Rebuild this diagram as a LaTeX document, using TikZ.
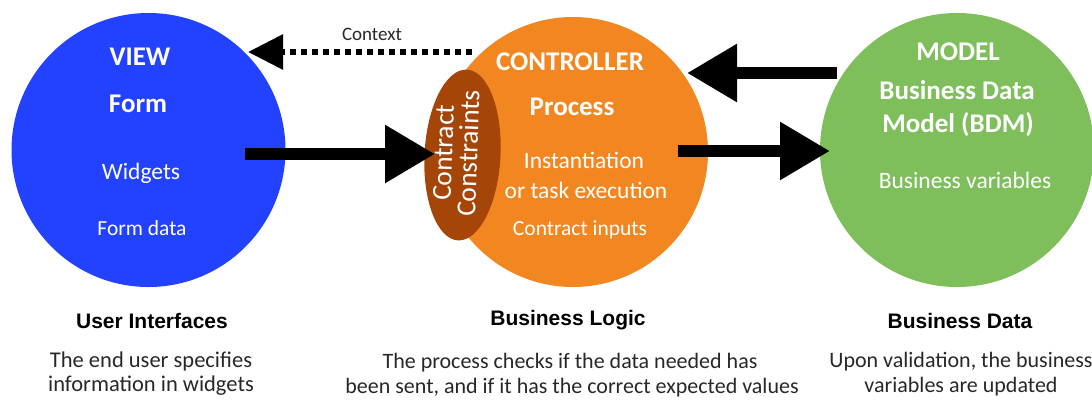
\documentclass[tikz,border=0pt]{standalone}
\usepackage{fontspec}
\setmainfont{Carlito}
\newfontfamily\headfont{Liberation Sans}
\usetikzlibrary{arrows.meta,shapes.geometric}

\definecolor{viewblue}{RGB}{34,66,255}
\definecolor{ctrlorange}{RGB}{242,135,34}
\definecolor{contractbrown}{RGB}{165,70,8}
\definecolor{modelgreen}{RGB}{126,191,92}
\definecolor{labelgray}{RGB}{40,40,40}

\tikzset{
  bubble/.style={circle, inner sep=0pt, minimum size=274pt},
  title/.style={inner sep=0pt, text=white, font=\bfseries\fontsize{27}{31}\selectfont},
  item/.style={inner sep=0pt, text=white, font=\fontsize{23.5}{27}\selectfont},
  small item/.style={inner sep=0pt, text=white, font=\fontsize{21.5}{25}\selectfont},
  heading/.style={inner sep=0pt, text=black, font=\headfont\bfseries\fontsize{21}{24}\selectfont},
  caption/.style={inner sep=0pt, text=labelgray, font=\fontsize{22}{26}\selectfont},
  bigarrow/.style={line width=12pt, -{Triangle[length=50pt,width=55pt]}},
  dotarrow/.style={line width=6pt, dash pattern=on 6pt off 5pt, -{Triangle[length=35pt,width=34pt]}}
}

\begin{document}
\begin{tikzpicture}[x=1pt,y=-1pt]
\useasboundingbox (0,0) rectangle (1092,400);

% the three parts
\node[bubble, fill=viewblue]    (view)  at (148.5,150) {};
\node[bubble, fill=ctrlorange, minimum size=270pt] (ctrl) at (573,152) {};
\node[bubble, fill=modelgreen]  (model) at (957,150) {};
\node[ellipse, fill=contractbrown, inner sep=0pt, rotate=-3,
      minimum width=76pt, minimum height=171pt] (contract) at (462.5,155) {};

% view texts
\node[title] (viewT)  at (140,57)  {VIEW};
\node[title] (viewF)  at (138,104) {Form};
\node[item]  (viewW)  at (141,173) {Widgets};
\node[small item] (viewD) at (142,228) {Form data};

% controller texts
\node[title] (ctrlT) at (570,62)  {CONTROLLER};
\node[title] (ctrlP) at (572,107) {Process};
\node[item]  (ctrlI) at (584,160) {Instantiation};
\node[item]  (ctrlE) at (586,190) {or task execution};
\node[small item] (ctrlC) at (580,230) {Contract inputs};
\node[inner sep=0pt, text=white, rotate=88, align=center,
      font=\fontsize{27.5}{25}\selectfont] (contractT) at (456,153) {Contract\\Constraints};

% model texts
\node[title] (modelT) at (958,52)  {MODEL};
\node[title] (modelB) at (957,90)  {Business Data};
\node[title] (modelM) at (958,125) {Model (BDM)};
\node[item]  (modelV) at (965,180) {Business variables};

% connector end points
\coordinate (ctxFrom) at (472,52);
\coordinate (ctxTo)   at (248,52);
\coordinate (vcFrom)  at (245,154);
\coordinate (vcTo)    at (435,154);
\coordinate (mcFrom)  at (837,73);
\coordinate (mcTo)    at (687,73);
\coordinate (cmFrom)  at (678,151);
\coordinate (cmTo)    at (830,151);

\draw[dotarrow] (ctxFrom) -- (ctxTo);
\node[inner sep=0pt, text=labelgray, font=\fontsize{19}{22}\selectfont] (ctxL) at (372,34) {Context};
\draw[bigarrow] (vcFrom) -- (vcTo);
\draw[bigarrow] (mcFrom) -- (mcTo);
\draw[bigarrow] (cmFrom) -- (cmTo);

% captions below
\node[heading] (uiH) at (152,321) {User Interfaces};
\node[caption, font=\fontsize{22.5}{26}\selectfont] (uiA) at (151,361) {The end user specifies};
\node[caption, font=\fontsize{22.5}{26}\selectfont] (uiB) at (151,386) {information in widgets};

\node[heading] (blH) at (568,320) {Business Logic};
\node[caption] (blA) at (570,363) {The process checks if the data needed has};
\node[caption] (blB) at (572,388) {been sent, and if it has the correct expected values};

\node[heading] (bdH) at (960,321) {Business Data};
\node[caption] (bdA) at (961,362) {Upon validation, the business};
\node[caption] (bdB) at (961,387) {variables are updated};
\end{tikzpicture}
\end{document}
